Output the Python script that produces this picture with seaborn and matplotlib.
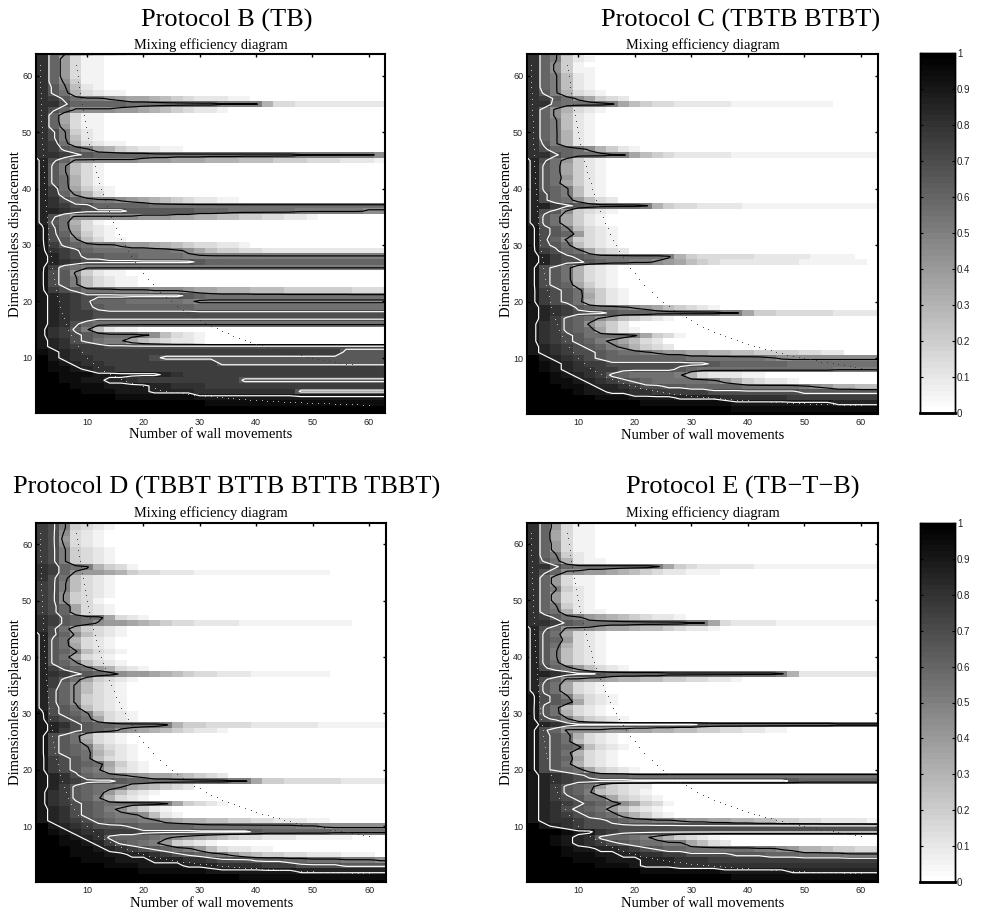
import numpy as np
import pandas as pd
import matplotlib
matplotlib.use('Agg')
import matplotlib.pyplot as plt
import seaborn as sns

FIG_W, FIG_H = 981, 913
SERIF = 'Liberation Serif'
SANS = 'Liberation Sans'

# cell levels, one character per cell: 0 = 0.00, 1 = 0.05 ... a = 0.50 ... k = 1.00
# one string per displacement from 64 down to 0, columns are wall movements 2, 4 ... 62
# a short row carries on with its last level (or with 0 when that level is very light)
rows_b = [
    'gca7543211', 'gc8311', 'gc8311', 'gc8311', 'gc8311', 'gc9411', 'gda521', 'gdb63211',
    'gfdbaa9877654322211', 'ggecccccbbbbbbbbaaaa63322222222', 'gec99998876543221',
    'gc7311', 'gc7311', 'gc8311', 'gea421', 'gea521', 'gfb63211', 'gfdca76432211',
    'ggfedcccccbbbbbbbbbbbbbaaaaaaa9', 'hec99999988877766655544433322211',
    'hda531', 'hda531', 'hdb631', 'hdb631', 'hfb7421', 'hfc9631', 'hgecbaa98765432211',
    'hgfeecccccb', 'hhgfeeeeddddddcccbbbbbbaaaaaa99', 'heb9999998887766554433221',
    'hdb631', 'ieb7321', 'iec8421', 'ieda5311', 'ifdcbaa988765433221',
    'igfecbbbbbbba975443322222222222', 'ihfeddcccbbbba', 'ihgfeeeeeeeeeedc', 'ifcba',
    'ied94211', 'ieda53211', 'ieda53211', 'ifedbbbaaa99987766655544444433',
    'ihgfeeeeeeeeedcb', 'ihgfecccbbbbba9', 'ihgfedccccccccb', 'ihgffe', 'ihgffe', 'ihgecb',
    'igfda5211', 'igfedcbbba95321', 'ihgedbaa7543221', 'ihgfffe',
    'jihgfffffffffffffffffffffffd', 'kihggfffffedd', 'kjihggffffffffffd', 'kjjihggf',
    'kkjjjiiiiiihgf', 'kkjjiihhgfffffffffd', 'kkkjjjiiiihhgggf', 'kkkkjjjiiihhhhgggggggggd',
    'kkkkkkkjjjjjjjiiiiiiiiiiiiiiiii', 'kkkkkkkkkkkkkkkj', 'k', 'k',
]
rows_c = [
    'gca52', 'gca421', 'gc941', 'gc9411', 'gca521', 'gca521', 'gca521', 'gda6321',
    'gfdb97432', 'ggcbbbba7543322222111111111', 'gc96321', 'gc9521', 'gca521', 'gca521',
    'gca621', 'gca621', 'gda621', 'geccb96421', 'ggecbbbaa7543222221111111111111',
    'heb8421', 'hdb7421', 'hdb7421', 'hdb8421', 'hdb7421', 'hdca521', 'heca521', 'hecb8532',
    'hhfedcbbbba64332222111111111111', 'hed94321', 'hdb7421', 'hdb7421', 'ieda5321',
    'iedc8321', 'iec94321', 'iedb5321', 'ifecb7432', 'ihfedcbbbbbba6433333222221111',
    'ihfeedcbbaa9875432222222111111', 'iedb6321', 'iedb6321', 'iedb6321', 'iedc7421',
    'ifedb6421', 'ifedb7421', 'ifedb6421', 'ihgfdcbba98754321',
    'ihgfeeedcccbbbbbbaa7443333322222', 'ihfdcb9754321', 'igfdc9642', 'igfdcb7421',
    'igfedbbbba7431', 'igfedca97532', 'ihgfedca96432', 'ihgfeedcbba98877665544443322',
    'kihgfedcccccccbbbbbbba9', 'kjihgffeeeeeeeeedccccccb', 'kjihggffeeeeedcbbbbbbbbbbbbaaaa',
    'kkjihgfdcbbbba6322211', 'kkjjihgfedcbbbbba8643221',
    'kkkjjihhgfeeddcccccbbbbba986655', 'kkkkjiihhggfffffeeeeeeeeddddd',
    'kkkkkkjjjiiiihhhhggggggfffffff', 'kkkkkkkkkkjjjjjjjjiiiiiiiiih', 'kkkkkkkkkkkkkkkkkkj', 'k',
]
rows_d = [
    'fea4321', 'fea4321', 'fe9321', 'fe8321', 'fe9321', 'fea4321', 'fea4321', 'fea4321',
    'gfcba6431', 'gfc98876433222111111111111', 'geb5321', 'fea5321', 'fea5321', 'fe94321',
    'fe9431', 'fec7321', 'fec7321', 'gfdcbb7321', 'gfdcb98876543322221111111111',
    'geb74321', 'hec95321', 'hdb6321', 'hdb7321', 'hdca5321', 'hdb7321', 'hdca5321',
    'hfdcb86321', 'hgfedcb9887654332221111111', 'hfdb74321', 'hfc95321', 'hec95321',
    'hec94321', 'hec94321', 'hedb5321', 'iedca5321', 'ifedb7321',
    'ihgedccbbbba6443333222222111111', 'ihfedcb9876543221', 'iedb6321', 'iedb7321',
    'iedca5321', 'iedcb6421', 'ifedb5321', 'ifedcb7421', 'ifedba6321', 'ihgecbba987765432',
    'ihgfeeedccbbbbbbbaa7443333322222', 'ihfdcbba765432', 'igfdcb85321', 'igfdca6321',
    'igfedcbbbbba74321', 'ihgedca96421', 'ihgedcbaa9521', 'ihgfedcbbaa876655443322211',
    'kihgfeeedcccccbbbbbbbbbaa9', 'kjihggfffeeeeeeeeeedccccccb',
    'kkjihgdcccba9876543322211111', 'kkjjihfdcba84321', 'kkkjjihgfedcba8532211',
    'kkkjjjiihhgfedcba8654433222111', 'kkkkjjjiiihhhggfeeedddccbbbaaa9',
    'kkkkkkjjjiiiihhhggggfffeeeedddd', 'kkkkkkkkkjjjjjjiiiiiiiih', 'kkkkkkkkkkkkkkkkkkj', 'k',
]
rows_e = [
    'gc8311', 'gc8311', 'gc7311', 'gc7311', 'gc8311', 'gc8311', 'gca421', 'gdb6211',
    'ggecbbbbbbba74322222111111111111', 'gec99887654322111', 'gc8311', 'gc8311', 'gca421',
    'gc8321', 'gc8321', 'gca421', 'gcb6211', 'gfdba876543221',
    'ggfdcbbbbbbbbbaa73222211111111111', 'hec9998776554322 1'.replace(' ', ''),
    'hdb7321', 'hdc8321', 'hdb6321', 'hda5321', 'hda5321', 'hdb5321', 'hecb85321',
    'hhgfeedcccccbbbbbbbbbba62222222', 'hec9988766554433221', 'hdb7321', 'hdb7321', 'ieda5321',
    'iedc7321', 'idb5321', 'idb6321', 'ieda64321', 'ihgfeeeeeeeeeeedcccccccccccb',
    'iec99998877665544332211', 'iedb6321', 'iedb5321', 'iedcb5321', 'iedb6321', 'iedc7321',
    'iedb6321', 'iedcb74321', 'ihgfedcccb', 'ihgfeeeeeeeeeeeeeeeeeeedc', 'ihfdcb74322',
    'ihfdca54321', 'ihfedbb74321', 'ihgfedcb97431', 'ihgedcb85321', 'ihgfedcb86421',
    'ihggfeedcbbaa9887766554433222211', 'kihgfe', 'kkkjiigfe', 'kkjihgdccba864321',
    'kkjihgfedcbbaa7532', 'kkkjiihhgfedccbbbbbbaa986654433', 'kkkjjjiihhggffeeeedddcccbbbbaaa',
    'kkkkjjjiiihhhgggf', 'kkkkkkjjjihhhg', 'kkkkkkkkkkjjjjjjjiiiiiih', 'kkkkkkkkkkkkkkkkkkj', 'k',
]

protocol_titles = ['Protocol B (TB)', 'Protocol C (TBTB BTBT)',
                   'Protocol D (TBBT BTTB BTTB TBBT)', 'Protocol E (TB\u2212T\u2212B)']
protocol_rows = [rows_b, rows_c, rows_d, rows_e]

wall_moves = list(range(2, 63, 2))
displacements = list(range(64, -1, -1))
contour_levels = [0.475, 0.675, 0.875]
x_ticks = [10, 20, 30, 40, 50, 60]
y_ticks = [10, 20, 30, 40, 50, 60]
cbar_ticks = [0, 0.1, 0.2, 0.3, 0.4, 0.5, 0.6, 0.7, 0.8, 0.9, 1]
cbar_labels = ['0', '0.1', '0.2', '0.3', '0.4', '0.5', '0.6', '0.7', '0.8', '0.9', '1']

# dotted reference curves (wall movements, displacement)
near_n = [1.61, 1.64, 1.67, 1.69, 1.72, 1.75, 1.79, 1.82, 1.85, 1.89, 1.92, 1.96, 2, 2.04, 2.08, 2.13, 2.17, 2.22,
          2.27, 2.33, 2.38, 2.44, 2.5, 2.56, 2.63, 2.7, 2.78, 2.86, 2.94, 3.03, 3.13, 3.23, 3.33, 3.45, 3.57, 3.7,
          3.85, 4, 4.17, 4.35, 4.55, 4.76, 5, 5.26, 5.56, 5.88, 6.25, 6.67, 7.14, 7.69, 8.33, 9.09, 10, 11, 12, 13,
          14, 15, 16, 17, 18, 19, 20, 21, 22, 23, 24, 25, 26, 27, 28, 29, 30, 31, 32, 33, 34, 35, 36, 37, 38, 39, 40,
          41, 42, 43, 44, 45, 46, 47, 48, 49, 50, 51, 52, 53, 54, 55, 56, 57, 58, 59, 60]
near_d = [62, 61, 60, 59, 58, 57, 56, 55, 54, 53, 52, 51, 50, 49, 48, 47, 46, 45, 44, 43, 42, 41, 40, 39, 38, 37, 36,
          35, 34, 33, 32, 31, 30, 29, 28, 27, 26, 25, 24, 23, 22, 21, 20, 19, 18, 17, 16, 15, 14, 13, 12, 11, 10,
          9.09, 8.33, 7.69, 7.14, 6.67, 6.25, 5.88, 5.56, 5.26, 5, 4.76, 4.55, 4.35, 4.17, 4, 3.85, 3.7, 3.57, 3.45,
          3.33, 3.23, 3.13, 3.03, 2.94, 2.86, 2.78, 2.7, 2.63, 2.56, 2.5, 2.44, 2.38, 2.33, 2.27, 2.22, 2.17, 2.13,
          2.08, 2.04, 2, 1.96, 1.92, 1.89, 1.85, 1.82, 1.79, 1.75, 1.72, 1.69, 1.67]
far_n = [8.06, 8.2, 8.33, 8.47, 8.62, 8.77, 8.93, 9.09, 9.26, 9.43, 9.62, 9.8, 10, 10.2, 10.4, 10.6, 10.9, 11.1, 11.4,
         11.6, 11.9, 12.2, 12.5, 12.8, 13.2, 13.5, 13.9, 14.3, 14.7, 15.2, 15.6, 16.1, 16.7, 17.2, 17.9, 18.5, 19.2,
         20, 20.8, 21.7, 23, 24, 25, 26, 27, 28, 29, 30, 31, 32, 33, 34, 35, 36, 37, 38, 39, 40, 41, 42, 43, 44, 45,
         46, 47, 48, 49, 50, 51, 52, 53, 54, 55, 56, 57, 58, 59, 60]
far_d = [62, 61, 60, 59, 58, 57, 56, 55, 54, 53, 52, 51, 50, 49, 48, 47, 46, 45, 44, 43, 42, 41, 40, 39, 38, 37, 36,
         35, 34, 33, 32, 31, 30, 29, 28, 27, 26, 25, 24, 23, 21.7, 20.8, 20, 19.2, 18.5, 17.9, 17.2, 16.7, 16.1,
         15.6, 15.2, 14.7, 14.3, 13.9, 13.5, 13.2, 12.8, 12.5, 12.2, 11.9, 11.6, 11.4, 11.1, 10.9, 10.6, 10.4, 10.2,
         10, 9.8, 9.6, 9.4, 9.3, 9.1, 8.9, 8.8, 8.6, 8.5, 8.3]

# axes boxes in pixels: left, top, right, bottom
axes_boxes = [(36.3, 54.5, 385.5, 413.5), (527.3, 54.5, 878, 414),
              (36.3, 523, 386, 882), (527.3, 522.5, 878, 882)]
title_spots = [(227, 27), (741, 27), (227, 494), (743, 494)]
cbar_boxes = {1: (920, 53.5, 955, 413), 3: (920, 523, 955, 882)}


def add_axes_px(fig, box):
    left, top, right, bottom = box
    return fig.add_axes([left / FIG_W, 1 - bottom / FIG_H, (right - left) / FIG_W, (bottom - top) / FIG_H])


def rows_to_frame(rows):
    """
    Turn the level strings into a table of cell values
    """
    levels = '0123456789abcdefghijk'
    table = []
    for row in rows:
        full = row[:31].ljust(31, row[-1] if row[-1] > '2' else '0')
        table.append([levels.index(c) / 20 for c in full])
    return pd.DataFrame(table, index=displacements, columns=wall_moves)


def draw_panel(fig, i, cmap):
    ax = add_axes_px(fig, axes_boxes[i])
    frame = rows_to_frame(protocol_rows[i])

    cbar_ax = add_axes_px(fig, cbar_boxes[i]) if i in cbar_boxes else None
    sns.heatmap(frame, ax=ax, cmap=cmap, vmin=0, vmax=1, cbar=cbar_ax is not None, cbar_ax=cbar_ax,
                xticklabels=False, yticklabels=False, rasterized=True)

    # heatmap cells sit at half integers, so move the contours and dots onto them
    z = frame.to_numpy()
    z = np.column_stack([np.minimum(z[:, 0] + 0.05, 1), z, z[:, -1]])
    xs = np.r_[0, np.arange(31) + 0.5, 31]
    ys = np.arange(65) + 0.5
    ax.contour(xs, ys, z, levels=contour_levels, colors=['black', 'white', 'white'], linewidths=0.85)

    ax.scatter((np.array(near_n) - 1) / 2, 64.5 - np.array(near_d), s=0.6, color='#cccccc', linewidths=0, zorder=4)
    ax.scatter((np.array(far_n) - 1) / 2, 64.5 - np.array(far_d), s=0.6, color='#333333', linewidths=0, zorder=4)

    ax.set_xlim(0, 31)
    ax.set_ylim(64.4, 0.7)
    ax.set_xticks([(t - 1) / 2 for t in x_ticks])
    ax.set_xticklabels(x_ticks, fontfamily=SANS, fontsize=6.5, rotation=0)
    ax.set_yticks([64.5 - t for t in y_ticks])
    ax.set_yticklabels(y_ticks, fontfamily=SANS, fontsize=6.5, rotation=0)
    ax.tick_params(direction='in', top=True, right=True, length=2.5, width=1, pad=3, colors='black', labelcolor='#222222')
    for spine in ax.spines.values():
        spine.set_visible(True)
        spine.set_linewidth(1.5)
        spine.set_color('black')

    ax.set_title('Mixing efficiency diagram', fontfamily=SERIF, fontsize=10.4, pad=4)
    ax.set_xlabel('Number of wall movements', fontfamily=SERIF, fontsize=10.5, labelpad=1)
    ax.set_ylabel('Dimensionless displacement', fontfamily=SERIF, fontsize=10.5, labelpad=0)

    x, y = title_spots[i]
    fig.text(x / FIG_W, 1 - y / FIG_H, protocol_titles[i], fontfamily=SERIF, fontsize=19, ha='center', va='baseline')

    if cbar_ax is not None:
        cbar_ax.set_yticks(cbar_ticks)
        cbar_ax.set_yticklabels(cbar_labels, fontfamily=SANS, fontsize=7, color='#222222')
        cbar_ax.tick_params(direction='in', left=True, right=True, length=2.5, width=0.8, pad=1.5)
        for spine in cbar_ax.spines.values():
            spine.set_visible(True)
            spine.set_linewidth(1.0)
        cbar_ax.spines['bottom'].set_linewidth(2)


def main():
    fig = plt.figure(figsize=(FIG_W / 100, FIG_H / 100), dpi=100, facecolor='white')
    cmap = plt.get_cmap('gray_r', 64)
    for i in range(4):
        draw_panel(fig, i, cmap)
    fig.savefig('out.png', dpi=100)


if __name__ == "__main__":
    main()
